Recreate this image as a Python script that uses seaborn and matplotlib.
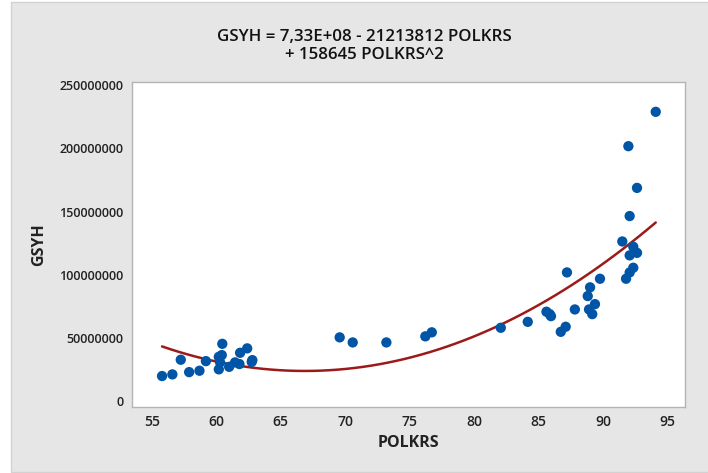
import matplotlib
matplotlib.use("Agg")

import matplotlib.pyplot as plt
import numpy as np
import pandas as pd
import seaborn as sns
from matplotlib.patches import Rectangle

polkrs = [55.8, 56.6, 57.25, 57.9, 58.7, 59.2, 60.2, 60.2, 60.3, 60.43, 60.47,
          61.0, 61.46, 61.8, 61.85, 62.4, 62.75, 62.8,
          69.57, 70.58, 73.19, 76.21, 76.71,
          82.06, 84.15, 85.6, 85.85, 85.95, 86.71, 87.09, 87.19, 87.8,
          88.8, 88.9, 88.98, 89.15, 89.36, 89.75,
          91.48, 91.77, 91.95, 92.05, 92.05, 92.05, 92.33, 92.33, 92.62,
          92.62, 94.07]
gsyh = [19.8, 21.1, 32.7, 22.9, 24.0, 31.6, 25.1, 35.0, 30.6, 36.4, 45.3,
        27.1, 30.6, 29.3, 38.2, 41.7, 31.0, 32.4,
        50.4, 46.4, 46.4, 51.2, 54.4,
        58.0, 62.7, 70.7, 68.8, 67.2, 54.8, 58.8, 101.8, 72.5,
        83.1, 72.5, 90.0, 68.8, 76.7, 96.8,
        126.3, 96.8, 201.7, 101.8, 115.3, 146.4, 105.5, 122.1, 117.3,
        168.7, 228.9]
gsyh = [v * 1e6 for v in gsyh]

# fitted quadratic from the title
b0, b1, b2 = 7.33e8, -21213812, 158645

df = pd.DataFrame({"POLKRS": polkrs, "GSYH": gsyh})
xs = np.linspace(min(polkrs), max(polkrs), 60)
fit = pd.DataFrame({"POLKRS": xs, "GSYH": b0 + b1 * xs + b2 * xs ** 2})

sns.set_style("white")
plt.rcParams["font.family"] = ["Open Sans", "DejaVu Sans"]

fig = plt.figure(figsize=(7.08, 4.73), dpi=100, facecolor="white")
fig.patches.append(Rectangle((11 / 708, 1 / 473), 1, 470 / 473,
                             transform=fig.transFigure, facecolor="#e6e6e6",
                             edgecolor="#d2d2d2", lw=1, zorder=-10))
ax = fig.add_axes([132 / 708, 66 / 473, 553 / 708, 325 / 473])
ax.set_facecolor("white")

sns.lineplot(data=fit, x="POLKRS", y="GSYH", ax=ax, color="#9c1a1a", lw=1.8)
sns.scatterplot(data=df, x="POLKRS", y="GSYH", ax=ax, color="#0055a6",
                s=55, edgecolor="none", zorder=3)

ax.set_xlim(53.47, 96.34)
ax.set_ylim(-4.7e6, 252.5e6)
ax.set_xticks([55, 60, 65, 70, 75, 80, 85, 90, 95])
ax.set_yticks([0, 50e6, 100e6, 150e6, 200e6, 250e6])
ax.set_yticklabels(["0", "50000000", "100000000", "150000000",
                    "200000000", "250000000"])
for s in ax.spines.values():
    s.set_color("#b4b4b4")
    s.set_linewidth(1)
ax.tick_params(axis="both", direction="out", length=4, width=1,
               color="#b4b4b4", labelcolor="#222222", pad=2)
for lab in ax.get_xticklabels():
    lab.set_fontsize(10)
    lab.set_fontweight("semibold")
for lab in ax.get_yticklabels():
    lab.set_fontsize(9)
    lab.set_fontweight("semibold")

ax.set_xlabel("POLKRS", fontsize=11.5, fontweight="bold", color="#222222",
              labelpad=4)
ax.set_ylabel("GSYH", fontsize=11.5, fontweight="bold", color="#222222",
              labelpad=9)

fig.text(364 / 708, 1 - 46 / 473,
         "GSYH = 7,33E+08 - 21213812 POLKRS\n+ 158645 POLKRS^2",
         ha="center", va="center", fontsize=12.2, fontweight="semibold",
         color="#111111", linespacing=1.2)

fig.savefig("out.png", dpi=100, facecolor="white")
